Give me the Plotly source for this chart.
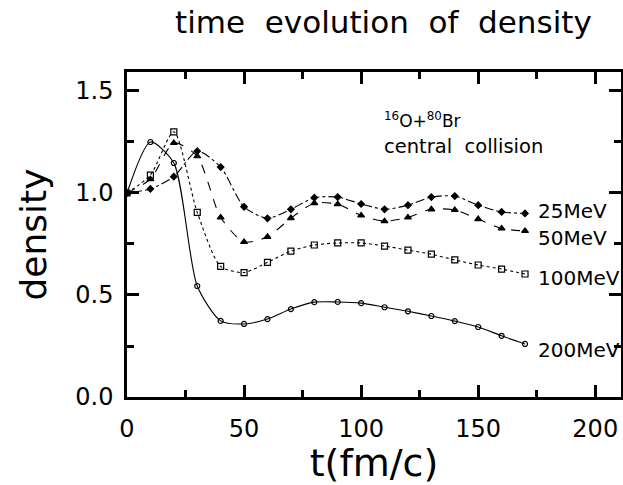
import plotly.graph_objects as go

t = [0, 10, 20, 30, 40, 50, 60, 70, 80, 90, 100, 110, 120, 130, 140, 150, 160, 170]
d25 = [1.00, 1.02, 1.08, 1.205, 1.127, 0.932, 0.876, 0.92, 0.977, 0.98, 0.946, 0.92, 0.94, 0.98, 0.985, 0.94, 0.907, 0.90]
d50 = [1.00, 1.068, 1.245, 1.18, 0.88, 0.76, 0.785, 0.877, 0.95, 0.945, 0.89, 0.862, 0.88, 0.92, 0.917, 0.872, 0.826, 0.814]
d100 = [1.00, 1.088, 1.30, 0.905, 0.64, 0.61, 0.66, 0.715, 0.745, 0.755, 0.755, 0.74, 0.72, 0.70, 0.672, 0.647, 0.627, 0.603]
d200 = [1.00, 1.25, 1.147, 0.544, 0.373, 0.358, 0.382, 0.431, 0.465, 0.466, 0.46, 0.44, 0.42, 0.397, 0.372, 0.343, 0.30, 0.26]
labels = ["25MeV", "50MeV", "100MeV", "200MeV"]
xticks = [0, 50, 100, 150, 200]
xminor_ticks = [25, 75, 125, 175]
yticks = [0, 0.5, 1.0, 1.5]
yticktext = ["0.0", "0.5", "1.0", "1.5"]
yminor_ticks = [0.25, 0.75, 1.25]

FONT = "DejaVu Sans"
XR = [0, 211]
YR = [0, 1.593]
fig = go.Figure()

styles = [
    dict(dash="dashdot", symbol="diamond", size=5),
    dict(dash="dash", symbol="triangle-up", size=6),
    dict(dash="dot", symbol="square-open", size=6),
    dict(dash="solid", symbol="circle-open", size=5),
]
series = [d25, d50, d100, d200]
label_dy = [0.012, -0.034, -0.02, -0.03]

for ys, st, lab, dy in zip(series, styles, labels, label_dy):
    fig.add_trace(go.Scatter(
        x=t, y=ys, mode="lines+markers",
        line=dict(color="black", width=1.1, dash=st["dash"], shape="spline", smoothing=0.7),
        marker=dict(symbol=st["symbol"], size=st["size"], color="black",
                    line=dict(color="black", width=1.2)),
        showlegend=False, name=lab))
    fig.add_annotation(x=t[-1] + 4.5, y=ys[-1] + dy, text=lab, showarrow=False,
                       xanchor="left", yanchor="middle",
                       font=dict(family=FONT, size=20, color="black"))

# invisible trace so the mirrored top/right axes (ticks only) are drawn
fig.add_trace(go.Scatter(x=[t[0]], y=[d25[0]], xaxis="x2", yaxis="y2", mode="markers",
                         marker=dict(opacity=0), showlegend=False, hoverinfo="skip"))

fig.add_annotation(x=109, y=1.358, text="<sup>16</sup>O+<sup>80</sup>Br", showarrow=False,
                   xanchor="left", yanchor="middle", font=dict(family=FONT, size=17, color="black"))
fig.add_annotation(x=109, y=1.23, text="central  collision", showarrow=False,
                   xanchor="left", yanchor="middle", font=dict(family=FONT, size=19.5, color="black"))

axis_common = dict(showline=True, linecolor="black", linewidth=2.5,
                   ticks="inside", tickcolor="black", tickwidth=2.5,
                   showgrid=False, zeroline=False,
                   tickfont=dict(family=FONT, size=24, color="black"))

xminor = dict(tickvals=xminor_ticks, ticklen=7, ticks="inside", tickcolor="black", tickwidth=2.5, showgrid=False)
yminor = dict(tickvals=yminor_ticks, ticklen=7, ticks="inside", tickcolor="black", tickwidth=2.5, showgrid=False)

fig.update_layout(
    template="none",
    xaxis=dict(range=XR, tickmode="array", tickvals=xticks, ticklen=12, ticklabelstandoff=8, minor=xminor,
               title=dict(text="t(fm/c)", font=dict(family=FONT, size=38, color="black"), standoff=12),
               automargin=False, **axis_common),
    yaxis=dict(range=YR, tickmode="array", tickvals=yticks, ticktext=yticktext, ticklen=12,
               ticklabelstandoff=6, minor=yminor,
               title=dict(text="density", font=dict(family=FONT, size=36, color="black"), standoff=18),
               automargin=False, **axis_common),
    xaxis2=dict(range=XR, tickmode="array", tickvals=xticks, ticklen=12, minor=xminor, side="top",
                overlaying="x", anchor="y2", showticklabels=False, **axis_common),
    yaxis2=dict(range=YR, tickmode="array", tickvals=yticks, ticklen=12, minor=yminor, side="right",
                overlaying="y", anchor="x2", showticklabels=False, **axis_common),
    width=623, height=485,
    margin=dict(l=127, r=2, t=72, b=88),
    paper_bgcolor="white", plot_bgcolor="white",
    title=dict(text="time  evolution  of  density", xref="paper", x=0.519, xanchor="center",
               yref="container", y=0.955, yanchor="middle",
               font=dict(family=FONT, size=31, color="black")),
)

fig.write_html("out.html")
